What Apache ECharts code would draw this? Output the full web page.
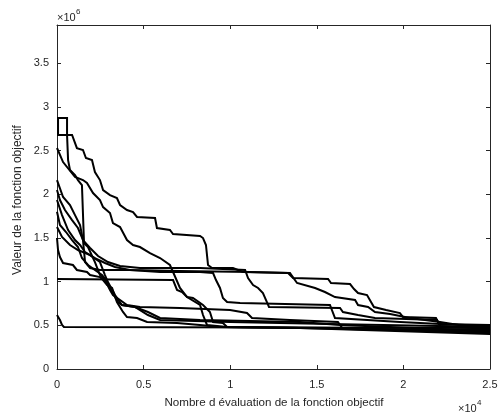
<!DOCTYPE html>
<html>
<head>
<meta charset="utf-8">
<script src="https://cdn.jsdelivr.net/npm/echarts@6/dist/echarts.min.js"></script>
<style>
  html, body { margin: 0; padding: 0; background: #fff; }
  #chart { width: 502px; height: 419px; }
</style>
</head>
<body>
<div id="chart"></div>
<script>
// Convergence runs: [evaluations (x1e4), objective value (x1e6)]
const run1 = [[0,2.874],[0.058,2.874],[0.058,2.68],[0.087,2.68],[0.115,2.53],[0.150,2.508],[0.167,2.416],[0.202,2.393],[0.219,2.256],[0.248,2.164],[0.266,2.05],[0.306,1.992],[0.346,1.958],[0.364,1.878],[0.404,1.821],[0.439,1.798],[0.462,1.741],[0.566,1.729],[0.577,1.615],[0.652,1.592],[0.670,1.546],[0.826,1.523],[0.843,1.50],[0.860,1.42],[0.872,1.191],[0.895,1.157],[1.016,1.157],[1.074,1.111],[1.334,1.099],[1.363,1.042],[1.565,1.031],[1.582,0.985],[1.692,0.973],[1.715,0.916],[1.738,0.870],[1.790,0.847],[1.813,0.767],[1.830,0.710],[1.900,0.676],[1.980,0.641],[1.998,0.595],[2.188,0.584],[2.206,0.515],[2.5,0.504]];
const run2 = [[0.006,2.874],[0.006,2.68],[0.058,2.68],[0.064,2.393],[0.075,2.279],[0.104,2.222],[0.121,2.164],[0.144,2.107],[0.156,1.443],[0.179,1.397],[0.219,1.225],[0.248,1.076],[0.277,1.019],[0.306,0.905],[0.323,0.847],[0.364,0.79],[0.404,0.733],[0.479,0.71],[0.71,0.699],[0.999,0.676],[1.097,0.641],[1.126,0.584],[1.345,0.561],[1.622,0.538],[1.651,0.458],[2.5,0.447]];
const run3 = [[0,2.531],[0.035,2.37],[0.104,2.199],[0.15,2.164],[0.173,2.13],[0.208,2.015],[0.248,1.935],[0.266,1.855],[0.306,1.786],[0.323,1.672],[0.364,1.626],[0.404,1.477],[0.439,1.42],[0.479,1.397],[0.537,1.328],[0.595,1.271],[0.652,1.191],[0.67,1.111],[0.71,0.928],[0.751,0.824],[0.826,0.733],[0.843,0.618],[0.866,0.504],[0.982,0.481],[1.403,0.469],[1.98,0.447],[2.5,0.412]];
const run4 = [[0,2.164],[0.035,1.97],[0.075,1.878],[0.104,1.763],[0.133,1.649],[0.15,1.477],[0.162,1.225],[0.191,1.157],[0.248,1.134],[0.421,1.134],[0.595,1.111],[0.826,1.111],[0.901,1.099],[0.918,1.019],[0.941,0.928],[0.958,0.813],[0.982,0.767],[1.057,0.756],[1.576,0.733],[1.605,0.584],[1.98,0.538],[2.211,0.515],[2.5,0.492]];
const run5 = [[0,2.05],[0.017,1.935],[0.046,1.821],[0.087,1.706],[0.121,1.615],[0.15,1.477],[0.191,1.386],[0.237,1.294],[0.294,1.225],[0.364,1.18],[0.479,1.157],[0.826,1.157],[1.086,1.134],[1.103,1.042],[1.132,0.962],[1.161,0.928],[1.189,0.87],[1.212,0.767],[1.224,0.71],[1.634,0.699],[1.651,0.653],[1.738,0.618],[1.836,0.584],[2.194,0.561],[2.211,0.492],[2.5,0.458]];
const run6 = [[0,1.935],[0.029,1.763],[0.064,1.592],[0.104,1.477],[0.133,1.42],[0.162,1.34],[0.219,1.271],[0.277,1.214],[0.335,1.168],[0.421,1.134],[0.71,1.122],[1.114,1.111],[1.345,1.099],[1.386,0.985],[1.49,0.928],[1.547,0.882],[1.605,0.824],[1.721,0.79],[1.738,0.733],[1.796,0.71],[1.836,0.653],[1.923,0.63],[2.038,0.584],[2.211,0.538],[2.5,0.447]];
const run7 = [[0,1.80],[0.017,1.649],[0.052,1.569],[0.087,1.477],[0.121,1.397],[0.144,1.271],[0.179,1.191],[0.219,1.134],[0.260,1.076],[0.283,1.019],[0.306,0.928],[0.335,0.824],[0.352,0.767],[0.375,0.733],[0.45,0.71],[0.525,0.653],[0.595,0.584],[0.826,0.561],[1.403,0.538],[1.634,0.504],[2.5,0.435]];
const run8 = [[0,1.50],[0.006,1.363],[0.017,1.282],[0.035,1.214],[0.092,1.191],[0.115,1.134],[0.173,1.111],[0.191,1.076],[0.248,1.053],[0.266,1.019],[0.289,0.962],[0.318,0.928],[0.346,0.767],[0.381,0.653],[0.404,0.595],[0.462,0.584],[0.52,0.538],[0.693,0.527],[0.826,0.504],[0.941,0.481],[1.403,0.469],[2.5,0.401]];
const run9 = [[0,1.031],[0.67,1.019],[0.693,0.905],[0.722,0.882],[0.751,0.824],[0.785,0.813],[0.843,0.733],[0.883,0.653],[0.901,0.538],[0.958,0.527],[0.982,0.481],[1.6,0.47],[2.5,0.43]];
const run10 = [[0,0.618],[0.017,0.561],[0.029,0.504],[0.04,0.481],[2.5,0.47]];
const run11 = [[0,1.626],[0.029,1.512],[0.075,1.42],[0.121,1.363],[0.191,1.305],[0.248,1.225],[0.277,1.076],[0.294,0.996],[0.335,0.847],[0.375,0.733],[0.45,0.71],[0.525,0.618],[0.595,0.561],[0.999,0.538],[1.576,0.515],[2.5,0.481]];
const runs = [run1, run2, run3, run4, run5, run6, run7, run8, run9, run10, run11];

const xTicks = ['0', '0.5', '1', '1.5', '2', '2.5'];
const yTicks = ['0', '0.5', '1', '1.5', '2', '2.5', '3', '3.5'];
const xTitle = "Nombre d évaluation de la fonction objectif";
const yTitle = 'Valeur de la fonction objectif';

const axisColor = '#262626';
const font = '"Liberation Sans", Arial, Helvetica, sans-serif';

const chart = echarts.init(document.getElementById('chart'), null, { renderer: 'canvas' });

function fmt(v, list) {
  const s = String(Math.round(v * 10) / 10);
  return list.indexOf(s) >= 0 ? s : '';
}

// top and right edges of the box, ticks pointing inwards, no labels
const frameAxis = {
  axisLine: { show: true, onZero: false, lineStyle: { color: axisColor, width: 1 } },
  axisTick: { show: true, inside: true, length: 4, lineStyle: { color: axisColor, width: 1 } },
  axisLabel: { show: false },
  splitLine: { show: false }
};

chart.setOption({
  animation: false,
  backgroundColor: '#fff',
  grid: { left: 57, right: 12, top: 25, bottom: 50, containLabel: false },
  xAxis: [
    {
      type: 'value', min: 0, max: 2.5, interval: 0.5, position: 'bottom',
      axisLine: { show: true, onZero: false, lineStyle: { color: axisColor, width: 1 } },
      axisTick: { show: true, inside: true, length: 4, lineStyle: { color: axisColor, width: 1 } },
      axisLabel: { color: axisColor, fontSize: 11, fontFamily: font, margin: 10,
                   formatter: v => fmt(v, xTicks) },
      splitLine: { show: false }
    },
    Object.assign({ type: 'value', min: 0, max: 2.5, interval: 0.5, position: 'top' }, frameAxis)
  ],
  yAxis: [
    {
      type: 'value', min: 0, max: 3.94, interval: 0.5, position: 'left',
      axisLine: { show: true, onZero: false, lineStyle: { color: axisColor, width: 1 } },
      axisTick: { show: true, inside: true, length: 4, lineStyle: { color: axisColor, width: 1 } },
      axisLabel: { color: axisColor, fontSize: 11, fontFamily: font, margin: 8, showMaxLabel: false,
                   formatter: v => fmt(v, yTicks) },
      splitLine: { show: false }
    },
    Object.assign({ type: 'value', min: 0, max: 3.94, interval: 0.5, position: 'right' }, frameAxis)
  ],
  series: runs.map(r => ({
    type: 'line',
    data: r,
    xAxisIndex: 0,
    yAxisIndex: 0,
    showSymbol: false,
    symbol: 'none',
    clip: true,
    lineStyle: { color: '#000', width: 2, join: 'miter' }
  })),
  graphic: [
    { type: 'text', x: 274, y: 397,
      style: { text: xTitle, fill: axisColor, font: '11.6px ' + font, textAlign: 'center' } },
    { type: 'text', x: 12, y: 200, rotation: Math.PI / 2,
      style: { text: yTitle, fill: axisColor, font: '12px ' + font, textAlign: 'center' } },
    { type: 'text', x: 57, y: 12,
      style: { text: '×10', fill: axisColor, font: '11px ' + font } },
    { type: 'text', x: 76, y: 8,
      style: { text: '6', fill: axisColor, font: '8px ' + font } },
    { type: 'text', x: 458, y: 403,
      style: { text: '×10', fill: axisColor, font: '11px ' + font } },
    { type: 'text', x: 477, y: 399,
      style: { text: '4', fill: axisColor, font: '8px ' + font } }
  ]
});
</script>
</body>
</html>
